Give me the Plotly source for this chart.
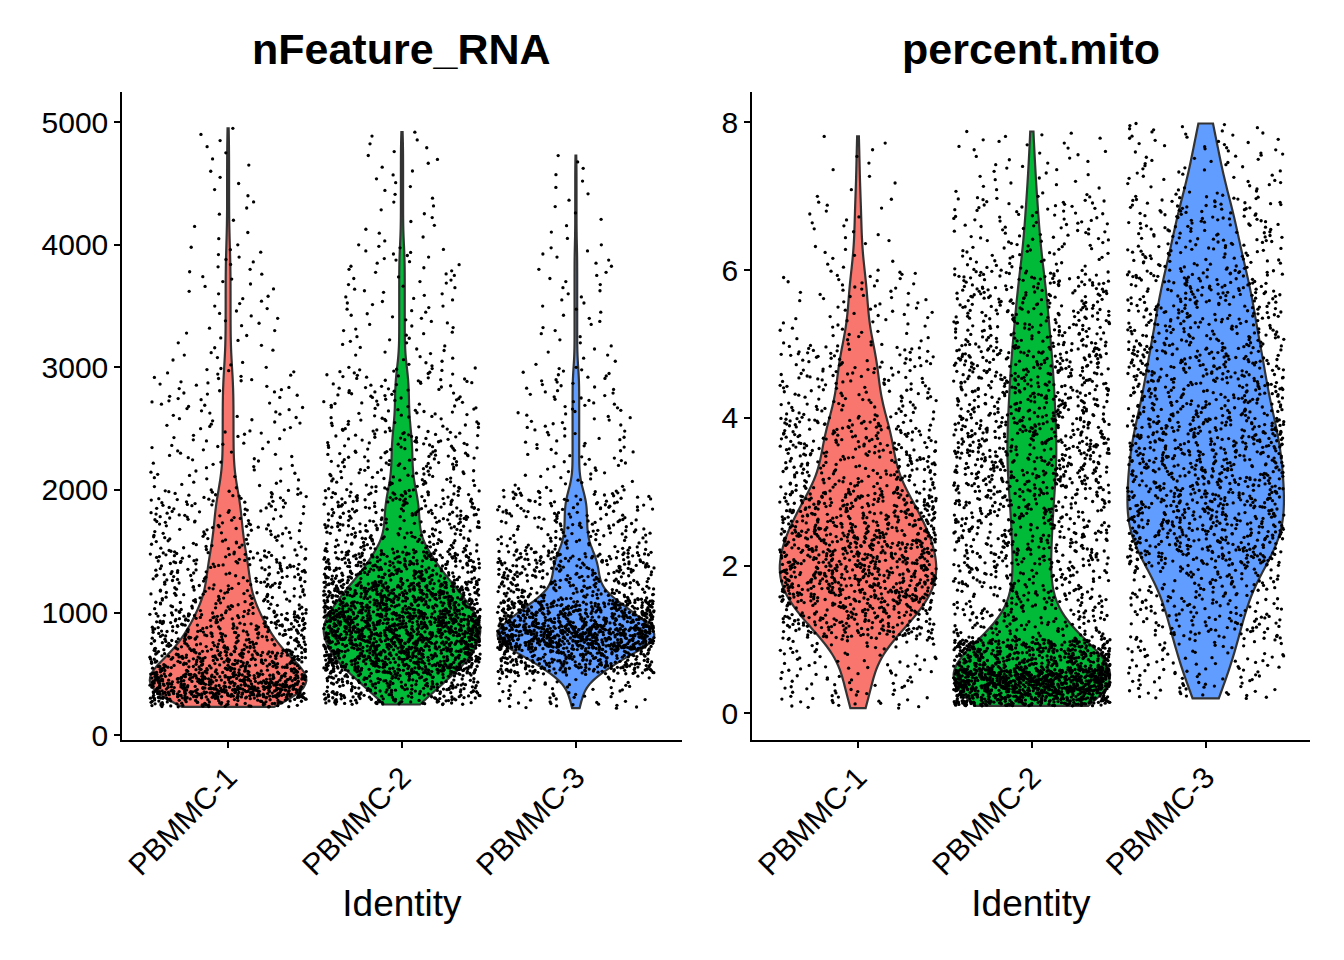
import numpy as np
import plotly.graph_objects as go

groups = ["PBMMC-1", "PBMMC-2", "PBMMC-3"]
colors = ["#F8766D", "#00BA38", "#619CFF"]

# histogram reading of each group: bin edges and cell counts
nfeat_edges = {
    "PBMMC-1": [230, 300, 400, 500, 700, 1000, 1500, 2000, 3000, 4000, 5000],
    "PBMMC-2": [250, 500, 750, 1000, 1250, 1500, 2000, 2500, 3000, 4000, 4950],
    "PBMMC-3": [220, 500, 700, 900, 1100, 1500, 2000, 3000, 4000, 4780],
}
nfeat_counts = {
    "PBMMC-1": [80, 250, 220, 250, 250, 220, 140, 110, 50, 20],
    "PBMMC-2": [250, 500, 600, 450, 260, 250, 150, 100, 80, 30],
    "PBMMC-3": [60, 250, 550, 350, 280, 170, 100, 40, 15],
}
mito_edges = {
    "PBMMC-1": [0.07, 1, 1.5, 2, 2.5, 3, 4, 5, 6, 7, 7.9],
    "PBMMC-2": [0.1, 0.3, 0.6, 1, 2, 3, 4, 5, 6, 7, 7.9],
    "PBMMC-3": [0.2, 1, 2, 3, 4, 5, 6, 7, 8],
}
mito_counts = {
    "PBMMC-1": [100, 200, 300, 280, 220, 260, 150, 70, 25, 10],
    "PBMMC-2": [300, 700, 400, 260, 300, 380, 330, 240, 110, 40],
    "PBMMC-3": [100, 200, 400, 380, 300, 240, 160, 70],
}

def expand(edges, counts):
    vals = []
    for a, b, c in zip(edges[:-1], edges[1:], counts):
        vals.append(np.linspace(a, b, c, endpoint=False))
    return np.concatenate(vals)

fig = go.Figure()
for panel, (E, C, xa, ya) in enumerate([(nfeat_edges, nfeat_counts, "x", "y"),
                                        (mito_edges, mito_counts, "x2", "y2")]):
    for g, col in zip(groups, colors):
        v = expand(E[g], C[g])
        fig.add_trace(go.Violin(
            x=[g] * len(v), y=v, xaxis=xa, yaxis=ya,
            fillcolor=col, line=dict(color="#333333", width=2.2),
            opacity=1, points="all", pointpos=0, jitter=1.0, width=0.9,
            spanmode="hard", scalemode="width",
            marker=dict(color="black", size=3.3),
            hoveron="points", showlegend=False))

font = dict(family="Liberation Sans, Arial", color="black")
axcommon = dict(showline=True, linecolor="black", linewidth=1.5, ticks="outside",
                ticklen=6, tickcolor="black", tickwidth=1.5, showgrid=False,
                zeroline=False, automargin=False, tickfont=dict(size=30, **font))
dx = 8 / 1344
dy = 8 / 960
fig.update_layout(
    width=1344, height=960, plot_bgcolor="white", paper_bgcolor="white",
    margin=dict(l=0, r=0, t=0, b=0, autoexpand=False), font=font,
    xaxis=dict(domain=[0.0908 - dx, 0.5074 - dx], range=[-0.61, 2.61], tickangle=-45,
               title=dict(text="Identity", font=dict(size=37, **font), standoff=10), **axcommon),
    yaxis=dict(domain=[0.229 + dy, 0.904 + dy], range=[-41, 5245], tickvals=[0, 1000, 2000, 3000, 4000, 5000], **axcommon),
    xaxis2=dict(domain=[0.5595 - dx, 0.9747 - dx], range=[-0.61, 2.6], tickangle=-45, anchor="y2",
                title=dict(text="Identity", font=dict(size=37, **font), standoff=10), **axcommon),
    yaxis2=dict(domain=[0.229 + dy, 0.904 + dy], range=[-0.365, 8.41], anchor="x2", tickvals=[0, 2, 4, 6, 8], **axcommon),
    annotations=[
        dict(text="<b>nFeature_RNA</b>", x=0.299 - dx, y=0.949 + dy, xref="paper", yref="paper",
             xanchor="center", yanchor="middle", showarrow=False, font=dict(size=43, **font)),
        dict(text="<b>percent.mito</b>", x=0.767 - dx, y=0.949 + dy, xref="paper", yref="paper",
             xanchor="center", yanchor="middle", showarrow=False, font=dict(size=43, **font)),
    ],
)
fig.write_html("out.html")
